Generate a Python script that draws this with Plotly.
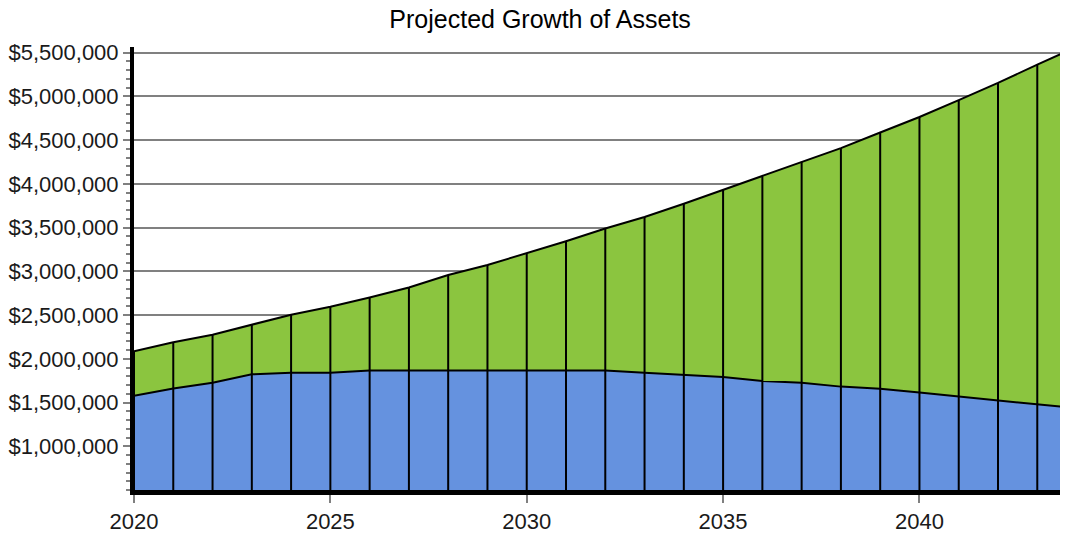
import plotly.graph_objects as go

years = list(range(2020, 2045))
base_values = [1576000, 1660000, 1727000, 1822000, 1841000, 1841000, 1867000, 1867000,
               1867000, 1867000, 1867000, 1867000, 1867000, 1841000, 1815000, 1792000,
               1747000, 1727000, 1682000, 1659000, 1614000, 1568000, 1519000, 1474000, 1435000]
total_values = [2087000, 2190000, 2276000, 2390000, 2504000, 2595000, 2700000, 2815000,
                2958000, 3072000, 3205000, 3345000, 3489000, 3622000, 3773000, 3932000,
                4088000, 4254000, 4409000, 4588000, 4765000, 4958000, 5155000, 5364000, 5565000]
y_tick_values = [1000000, 1500000, 2000000, 2500000, 3000000, 3500000, 4000000, 4500000,
                 5000000, 5500000]
y_tick_labels = ["$1,000,000", "$1,500,000", "$2,000,000", "$2,500,000", "$3,000,000",
                 "$3,500,000", "$4,000,000", "$4,500,000", "$5,000,000", "$5,500,000"]
x_tick_values = [2020, 2025, 2030, 2035, 2040]
title_text = "Projected Growth of Assets"

FONT = "Liberation Sans, Arial, sans-serif"

fig = go.Figure()
fig.add_trace(go.Scatter(x=years, y=base_values, mode="lines", fill="tozeroy",
                         fillcolor="#6592DF", line=dict(color="black", width=2),
                         name="Base", showlegend=False))
fig.add_trace(go.Scatter(x=years, y=total_values, mode="lines", fill="tonexty",
                         fillcolor="#8BC53F", line=dict(color="black", width=2),
                         name="Total", showlegend=False))

vx, vy = [], []
for yr, tot in zip(years, total_values):
    vx += [yr, yr, None]
    vy += [0, tot, None]
fig.add_trace(go.Scatter(x=vx, y=vy, mode="lines", line=dict(color="black", width=2),
                         hoverinfo="skip", showlegend=False))

# page body has an 8px margin; figure sized to fit window
W, H = 1060, 526
px_per_year = (919 - 132.7) / 20
x_end = 2020 + (W - 125) / px_per_year

fig.update_layout(
    width=W, height=H,
    margin=dict(l=125, r=0, t=39, b=42),
    paper_bgcolor="white", plot_bgcolor="white",
    font=dict(family=FONT, size=22, color="#1a1a1a"),
    title=dict(text=title_text, x=0.502, xanchor="center", y=0.978, yanchor="middle",
               font=dict(family=FONT, size=25, color="black")),
    xaxis=dict(range=[2020, x_end], tickmode="array", tickvals=x_tick_values,
               showgrid=False, zeroline=False, showline=True, linecolor="black", linewidth=5,
               ticks="outside", ticklen=8, tickcolor="#808080", tickwidth=2,
               tickfont=dict(size=22)),
    yaxis=dict(range=[500000, 5565000], tickmode="array", tickvals=y_tick_values,
               ticktext=y_tick_labels, showgrid=True, gridcolor="#808080", gridwidth=1.5,
               zeroline=False, showline=True, linecolor="black", linewidth=4,
               ticks="outside", ticklen=7, tickcolor="#808080", tickwidth=2,
               tickfont=dict(size=22),
               minor=dict(dtick=100000, tick0=0, ticks="outside", ticklen=4,
                          tickcolor="#808080", tickwidth=2, showgrid=False)),
)

fig.write_html("out.html")
